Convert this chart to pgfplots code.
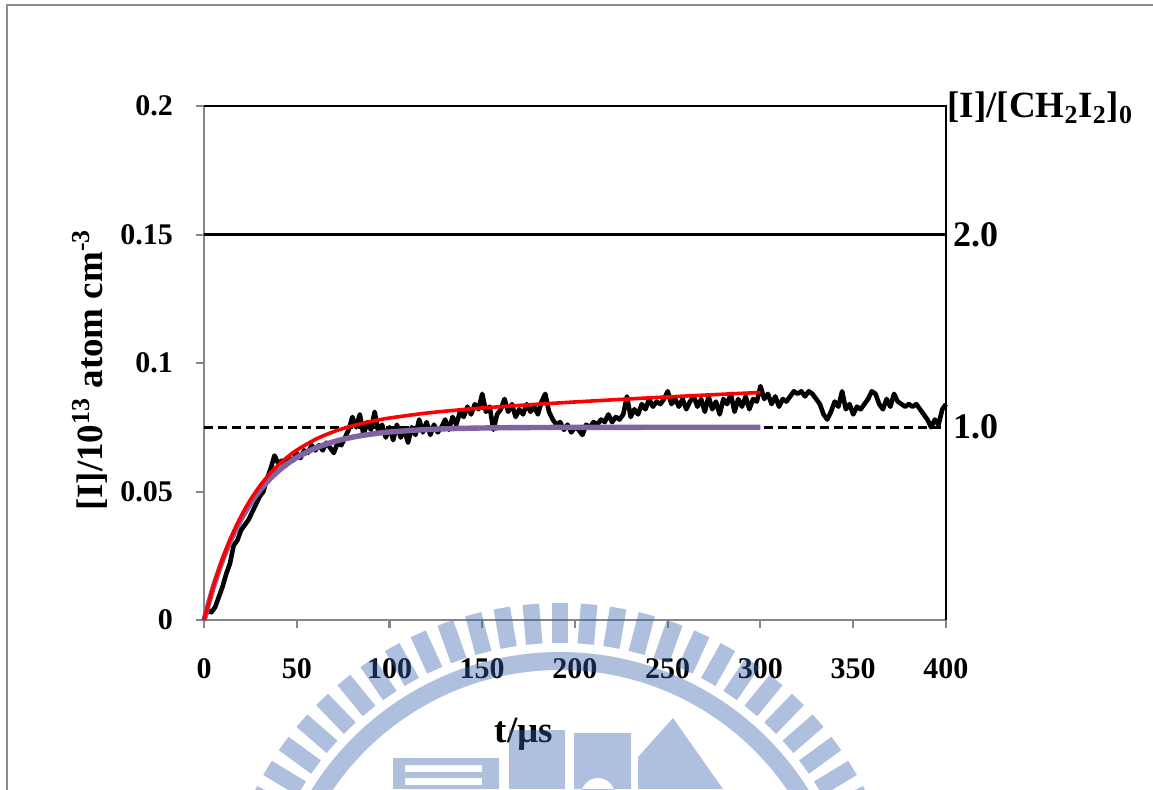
\documentclass[border=0pt]{standalone}
\usepackage{fontspec}
\setmainfont{Liberation Serif}
\usepackage{pgfplots}
\usepackage{pgfplotstable}
\pgfplotsset{compat=1.18}

\definecolor{fitpurple}{HTML}{8064A2}
\definecolor{axisgray}{HTML}{868686}
\definecolor{framegray}{HTML}{8C8C8C}
\definecolor{wmblue}{rgb}{0.215,0.38,0.69}

% measured iodine atom signal, t in microseconds
\pgfplotstableread{
t v
0 0.000
2 0.004
4 0.003
6 0.005
8 0.009
10 0.013
12 0.018
14 0.022
16 0.029
18 0.031
20 0.035
22 0.037
24 0.039
26 0.042
28 0.045
30 0.048
32 0.050
34 0.055
36 0.059
38 0.064
40 0.061
42 0.062
44 0.060
46 0.063
48 0.062
50 0.065
52 0.063
54 0.066
56 0.065
58 0.068
60 0.066
62 0.068
64 0.066
66 0.069
68 0.067
70 0.065
72 0.069
74 0.068
76 0.071
78 0.074
80 0.079
82 0.075
84 0.080
86 0.072
88 0.077
90 0.074
92 0.081
94 0.073
96 0.076
98 0.071
100 0.075
102 0.070
104 0.076
106 0.071
108 0.074
110 0.069
112 0.075
114 0.072
116 0.078
118 0.073
120 0.077
122 0.072
124 0.076
126 0.073
128 0.075
130 0.078
132 0.074
134 0.079
136 0.076
138 0.081
140 0.079
142 0.083
144 0.080
146 0.084
148 0.082
150 0.088
152 0.081
154 0.083
156 0.074
158 0.080
160 0.082
162 0.086
164 0.081
166 0.084
168 0.079
170 0.082
172 0.080
174 0.084
176 0.081
178 0.083
180 0.080
182 0.085
184 0.088
186 0.081
188 0.078
190 0.076
192 0.077
194 0.074
196 0.076
198 0.073
200 0.075
202 0.074
204 0.072
206 0.076
208 0.075
210 0.077
212 0.076
214 0.078
216 0.077
218 0.080
220 0.077
222 0.079
224 0.078
226 0.080
228 0.087
230 0.079
232 0.082
234 0.080
236 0.084
238 0.082
240 0.086
242 0.083
244 0.085
246 0.084
248 0.086
250 0.089
252 0.084
254 0.086
256 0.083
258 0.086
260 0.082
262 0.085
264 0.087
266 0.083
268 0.086
270 0.081
272 0.087
274 0.082
276 0.085
278 0.080
280 0.086
282 0.084
284 0.088
286 0.081
288 0.086
290 0.083
292 0.087
294 0.082
296 0.086
298 0.085
300 0.091
302 0.086
304 0.088
306 0.084
308 0.087
310 0.083
312 0.086
314 0.085
316 0.087
318 0.089
320 0.088
322 0.089
324 0.087
326 0.089
328 0.088
330 0.086
332 0.084
334 0.080
336 0.078
338 0.081
340 0.085
342 0.083
344 0.089
346 0.082
348 0.084
350 0.080
352 0.083
354 0.082
356 0.084
358 0.086
360 0.089
362 0.088
364 0.084
366 0.082
368 0.086
370 0.083
372 0.088
374 0.085
376 0.084
378 0.083
380 0.084
382 0.083
384 0.084
386 0.082
388 0.080
390 0.078
392 0.075
394 0.078
396 0.076
398 0.082
400 0.084
}\signal

% single-exponential fit
\pgfplotstableread{
t v
0 0
5 0.01268
10 0.02321
15 0.03197
20 0.03924
25 0.04529
30 0.05031
35 0.05449
40 0.05795
45 0.06083
50 0.06323
60 0.06687
70 0.06939
80 0.07113
90 0.07232
100 0.07315
120 0.07412
140 0.07458
160 0.07480
180 0.07490
200 0.07495
250 0.07499
300 0.07500
}\fitA

% fit including the slow secondary rise
\pgfplotstableread{
t v
0 0
5 0.01298
10 0.02380
15 0.03286
20 0.04042
25 0.04675
30 0.05206
35 0.05652
40 0.06026
45 0.06341
50 0.06609
60 0.07026
70 0.07331
80 0.07557
90 0.07726
100 0.07859
120 0.08052
140 0.08191
160 0.08302
180 0.08397
200 0.08484
220 0.08566
240 0.08643
260 0.08716
280 0.08786
300 0.08854
}\fitB

\begin{document}
\begin{tikzpicture}[x=1pt,y=1pt]
\useasboundingbox (0,0) rectangle (576.5,394.5);
\draw[framegray, line width=1pt] (3.5,-1) -- (3.5,392) -- (578,392);

\begin{axis}[
  at={(102pt,84.5pt)}, anchor=south west,
  scale only axis, width=371pt, height=257pt,
  xmin=0, xmax=400, ymin=0, ymax=0.2,
  axis x line*=bottom, axis y line*=left,
  axis line style={axisgray, line width=1pt},
  xtick={0,50,100,150,200,250,300,350,400},
  xticklabels={0,50,100,150,200,250,300,350,400},
  ytick={0,0.05,0.1,0.15,0.2},
  yticklabels={0,0.05,0.1,0.15,0.2},
  scaled y ticks=false,
  tick align=outside, major tick length=4pt,
  tick style={axisgray, line width=1pt},
  ticklabel style={font=\fontsize{15}{18}\selectfont\bfseries},
  xticklabel style={yshift=-11.5pt},
  yticklabel style={xshift=-8pt},
  /pgf/number format/assume math mode=true,
  clip=false,
]
\addplot[black, line width=1.5pt] coordinates {(0,0.15) (400,0.15)};
\addplot[black, line width=1.6pt, dash pattern=on 4.5pt off 2.5pt] coordinates {(0,0.075) (400,0.075)};
\addplot[black, line width=2.3pt, line join=round] table[x=t, y=v] {\signal};
\addplot[fitpurple, line width=2.7pt, smooth] table[x=t, y=v] {\fitA};
\addplot[red, line width=1.8pt, smooth] table[x=t, y=v] {\fitB};
\draw[black, line width=1pt] (rel axis cs:0,1) -- (rel axis cs:1,1) -- (rel axis cs:1,0);
\end{axis}

\begin{axis}[
  at={(102pt,84.5pt)}, anchor=south west,
  scale only axis, width=371pt, height=257pt,
  xmin=0, xmax=400, ymin=0, ymax=2.6667,
  axis x line=none, axis y line*=right,
  axis line style={draw=none},
  ytick={1,2}, yticklabels={1.0,2.0},
  major tick length=0pt,
  ticklabel style={font=\fontsize{18}{21}\selectfont\bfseries},
  /pgf/number format/assume math mode=true,
]
\end{axis}

\node[rotate=90, anchor=base, font=\fontsize{18.5}{22}\selectfont\bfseries]
  at (51,209.5) {[I]/10\textsuperscript{13} atom cm\textsuperscript{-3}};
\node[anchor=base, font=\fontsize{18.5}{22}\selectfont\bfseries]
  at (262,23.5) {t/µs};
\node[anchor=base west, inner sep=0pt, font=\fontsize{18.5}{22}\selectfont\bfseries]
  at (473.5,335.5) {[I]/[CH\textsubscript{2}I\textsubscript{2}]\textsubscript{0}};

% faint seal printed across the lower part of the page
\begin{scope}
  \clip (0,0) rectangle (576.5,394.5);
  \begin{scope}[fill=wmblue, fill opacity=0.4]
    \foreach \k in {-13,...,13} {
      \fill[rotate around={4.9*\k:(280,-78)}] (275.85,73) rectangle (284.15,93);
    }
    \fill[even odd rule] (280,-78) circle (146.5) (280,-78) circle (137.5);
    \fill[even odd rule] (196.5,0) rectangle (249.5,15.5)
      (202.5,8.5) rectangle (241,12) (202.5,2) rectangle (241,5.5);
    \fill (254.5,0) rectangle (282.5,29.5);
    \fill[even odd rule] (287,0) rectangle (315.5,28) (299,-3) circle (8.5);
    \fill (319,0) -- (319,16) -- (336.5,35.5) -- (361.5,0) -- cycle;
  \end{scope}
\end{scope}
\end{tikzpicture}
\end{document}
